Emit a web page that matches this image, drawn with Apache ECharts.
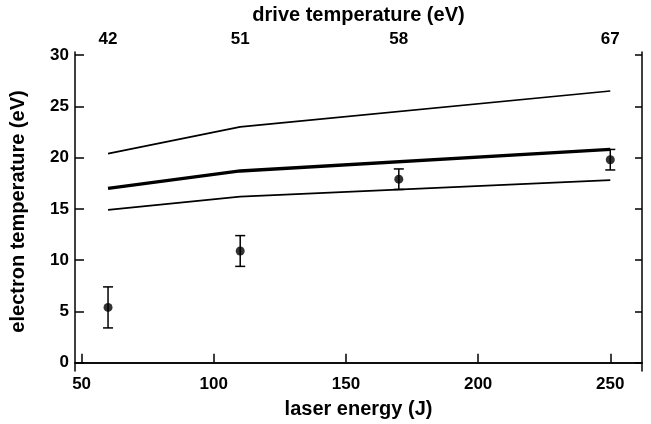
<!DOCTYPE html>
<html>
<head>
<meta charset="utf-8">
<script src="https://cdn.jsdelivr.net/npm/echarts@6/dist/echarts.min.js"></script>
<style>
    html, body { margin: 0; padding: 0; background: #fff; }
    #mychart { width: 651px; height: 424px; }
</style>
</head>
<body>
<div id="mychart"></div>
<script>
// measured electron temperature
const energy = [60, 110, 170, 250]
const measured = [5.4, 10.9, 17.9, 19.8]
const errBar = [2, 1.5, 1, 1]

// model curves
const lineX = [60, 110, 250]
const upper = [20.4, 23.0, 26.5]
const middle = [17.0, 18.7, 20.8]
const lower = [14.9, 16.2, 17.8]

// tick labels
const xTicks = [50, 100, 150, 200, 250]
const yTicks = [0, 5, 10, 15, 20, 25, 30]
const driveTemp = [42, 51, 58, 67]

const font = 'Liberation Sans'
const xMin = 47.5, xMax = 262
const yMin = -0.8, yMax = 30.3

let myChart = echarts.init(document.getElementById('mychart'))

const axisLine = { show: true, lineStyle: { color: '#000', width: 1.5 } }
const tickStyle = { color: '#000', width: 1.5 }
const titleFont = { fontFamily: font, fontWeight: 'bold', fontSize: 20, color: '#000' }
const tickFont = { fontFamily: font, fontWeight: 'bold', fontSize: 17, color: '#000' }

function pairs(xs, ys) {
    return xs.map((x, i) => [x, ys[i]])
}

let option = {
    animation: false,
    backgroundColor: '#fff',
    grid: { left: 75, right: 9, top: 52, bottom: 53 },
    xAxis: [
        {
            type: 'value', position: 'bottom', min: xMin, max: xMax,
            name: 'laser energy (J)', nameLocation: 'middle', nameGap: 28,
            nameTextStyle: titleFont,
            axisLine: axisLine,
            axisTick: { show: true, inside: true, length: 9, customValues: xTicks, lineStyle: tickStyle },
            axisLabel: Object.assign({ customValues: xTicks, margin: 5 }, tickFont),
            splitLine: { show: false }
        },
        {
            type: 'value', position: 'top', min: xMin, max: xMax,
            name: 'drive temperature (eV)', nameLocation: 'middle', nameGap: 27,
            nameTextStyle: titleFont,
            axisLine: axisLine,
            axisTick: { show: false },
            axisLabel: Object.assign({
                customValues: energy, margin: 4,
                formatter: v => String(driveTemp[energy.indexOf(v)])
            }, tickFont),
            splitLine: { show: false }
        }
    ],
    yAxis: [
        {
            type: 'value', position: 'left', min: yMin, max: yMax,
            name: 'electron temperature (eV)', nameLocation: 'middle', nameGap: 47,
            nameTextStyle: titleFont,
            axisLine: axisLine,
            axisTick: { show: true, inside: true, length: 9, customValues: yTicks, lineStyle: tickStyle },
            axisLabel: Object.assign({ customValues: yTicks, margin: 6 }, tickFont),
            splitLine: { show: false }
        },
        {
            type: 'value', position: 'right', min: yMin, max: yMax,
            axisLine: axisLine,
            axisTick: { show: true, inside: true, length: 7, customValues: yTicks, lineStyle: tickStyle },
            axisLabel: { show: false },
            splitLine: { show: false }
        }
    ],
    series: [
        {
            type: 'line', data: pairs(lineX, upper), showSymbol: false,
            lineStyle: { color: '#000', width: 1.7 }
        },
        {
            type: 'line', data: pairs(lineX, middle), showSymbol: false,
            lineStyle: { color: '#000', width: 3.3 }
        },
        {
            type: 'line', data: pairs(lineX, lower), showSymbol: false,
            lineStyle: { color: '#000', width: 1.7 }
        },
        {
            type: 'custom',
            data: energy.map((e, i) => [e, measured[i] - errBar[i], measured[i] + errBar[i]]),
            renderItem: function (params, api) {
                let lo = api.coord([api.value(0), api.value(1)])
                let hi = api.coord([api.value(0), api.value(2)])
                let st = { stroke: '#000', lineWidth: 1.5 }
                let cap = 5
                return {
                    type: 'group',
                    children: [
                        { type: 'line', shape: { x1: lo[0], y1: lo[1], x2: hi[0], y2: hi[1] }, style: st },
                        { type: 'line', shape: { x1: lo[0] - cap, y1: lo[1], x2: lo[0] + cap, y2: lo[1] }, style: st },
                        { type: 'line', shape: { x1: hi[0] - cap, y1: hi[1], x2: hi[0] + cap, y2: hi[1] }, style: st }
                    ]
                }
            }
        },
        {
            type: 'scatter', data: pairs(energy, measured),
            symbol: 'circle', symbolSize: 9,
            itemStyle: { color: '#000' }
        }
    ]
}

myChart.setOption(option)
</script>
</body>
</html>
